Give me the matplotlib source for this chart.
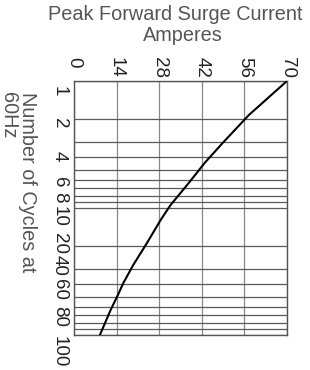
#!/usr/bin/env python3
# coding: utf-8

import matplotlib
matplotlib.use('Agg')
import matplotlib.pyplot as plt
import matplotlib.transforms as mtransforms
from matplotlib.ticker import FixedLocator, LogLocator, NullFormatter

# surge curve (cycles -> peak amps)
cycles = [1, 1.85, 3.05, 4.4, 6.4, 9.5, 12.4, 19, 28, 39, 48, 63, 100]
amps = [70, 57.5, 49, 43, 37.6, 31.7, 28.5, 23.9, 19.5, 16.2, 14.5, 12.1, 8.5]

amp_ticks = [0, 14, 28, 42, 56, 70]
cycle_ticks = [1, 2, 4, 6, 8, 10, 20, 40, 60, 80, 100]
cycle_labels = ['1', '2', '4', '6', '8', '10', '20', '40', '60', '80', '100']

FONT = 'Liberation Sans'
GRAY = '#555555'

fig = plt.figure(figsize=(3.1, 3.7), dpi=100)
ax = fig.add_axes([74 / 310, 1 - 335 / 370, 213 / 310, 254 / 370])

ax.plot(amps, cycles, color='black', lw=1.5, zorder=3)

ax.set_yscale('log')
ax.set_xlim(0, 70)
ax.set_ylim(100, 1)

ax.xaxis.tick_top()
ax.set_xticks(amp_ticks)
ax.set_xticklabels([str(t) for t in amp_ticks], rotation=-90, va='top',
                   family=FONT, fontsize=13.5, color='#222222')
ax.tick_params(axis='x', length=0, pad=17.3)

ax.yaxis.set_major_locator(FixedLocator(cycle_ticks))
ax.yaxis.set_minor_locator(LogLocator(base=10, subs=range(2, 10)))
ax.yaxis.set_minor_formatter(NullFormatter())
ax.set_yticklabels(cycle_labels, rotation=-90, va='center',
                   family=FONT, fontsize=13.5, color='#222222')
ax.tick_params(axis='y', which='both', length=0, pad=4.5)

# labels in the source sit a bit off their lines (pixels, + is down)
label_shift = [10, 4, -1.5, 2, 2, 8, -3, -19.5, -17, -6, 17]
for tick, dy in zip(ax.yaxis.get_major_ticks(), label_shift):
    off = mtransforms.ScaledTranslation(0, -dy / 100, fig.dpi_scale_trans)
    tick.label1.set_transform(tick.label1.get_transform() + off)

ax.grid(True, which='both', axis='y', color='#5a5a5a', lw=0.9)
ax.grid(True, which='major', axis='x', color='#888888', lw=0.9)
for s in ax.spines.values():
    s.set_color(GRAY)
    s.set_linewidth(1)

ax.set_ylabel('Number of Cycles at\n60Hz', rotation=-90, ha='center', va='top',
              rotation_mode='default', multialignment='left', family=FONT,
              fontsize=14.3, color=GRAY, linespacing=1.0)
ax.yaxis.set_label_coords(-0.263, 0.957)

fig.text(175 / 310, 1 - 20 / 370, 'Peak Forward Surge Current', ha='center',
         va='baseline', family=FONT, fontsize=14.3, color=GRAY)
fig.text(183 / 310, 1 - 41 / 370, 'Amperes', ha='center', va='baseline',
         family=FONT, fontsize=14.3, color=GRAY)

fig.savefig('out.png', dpi=100)
